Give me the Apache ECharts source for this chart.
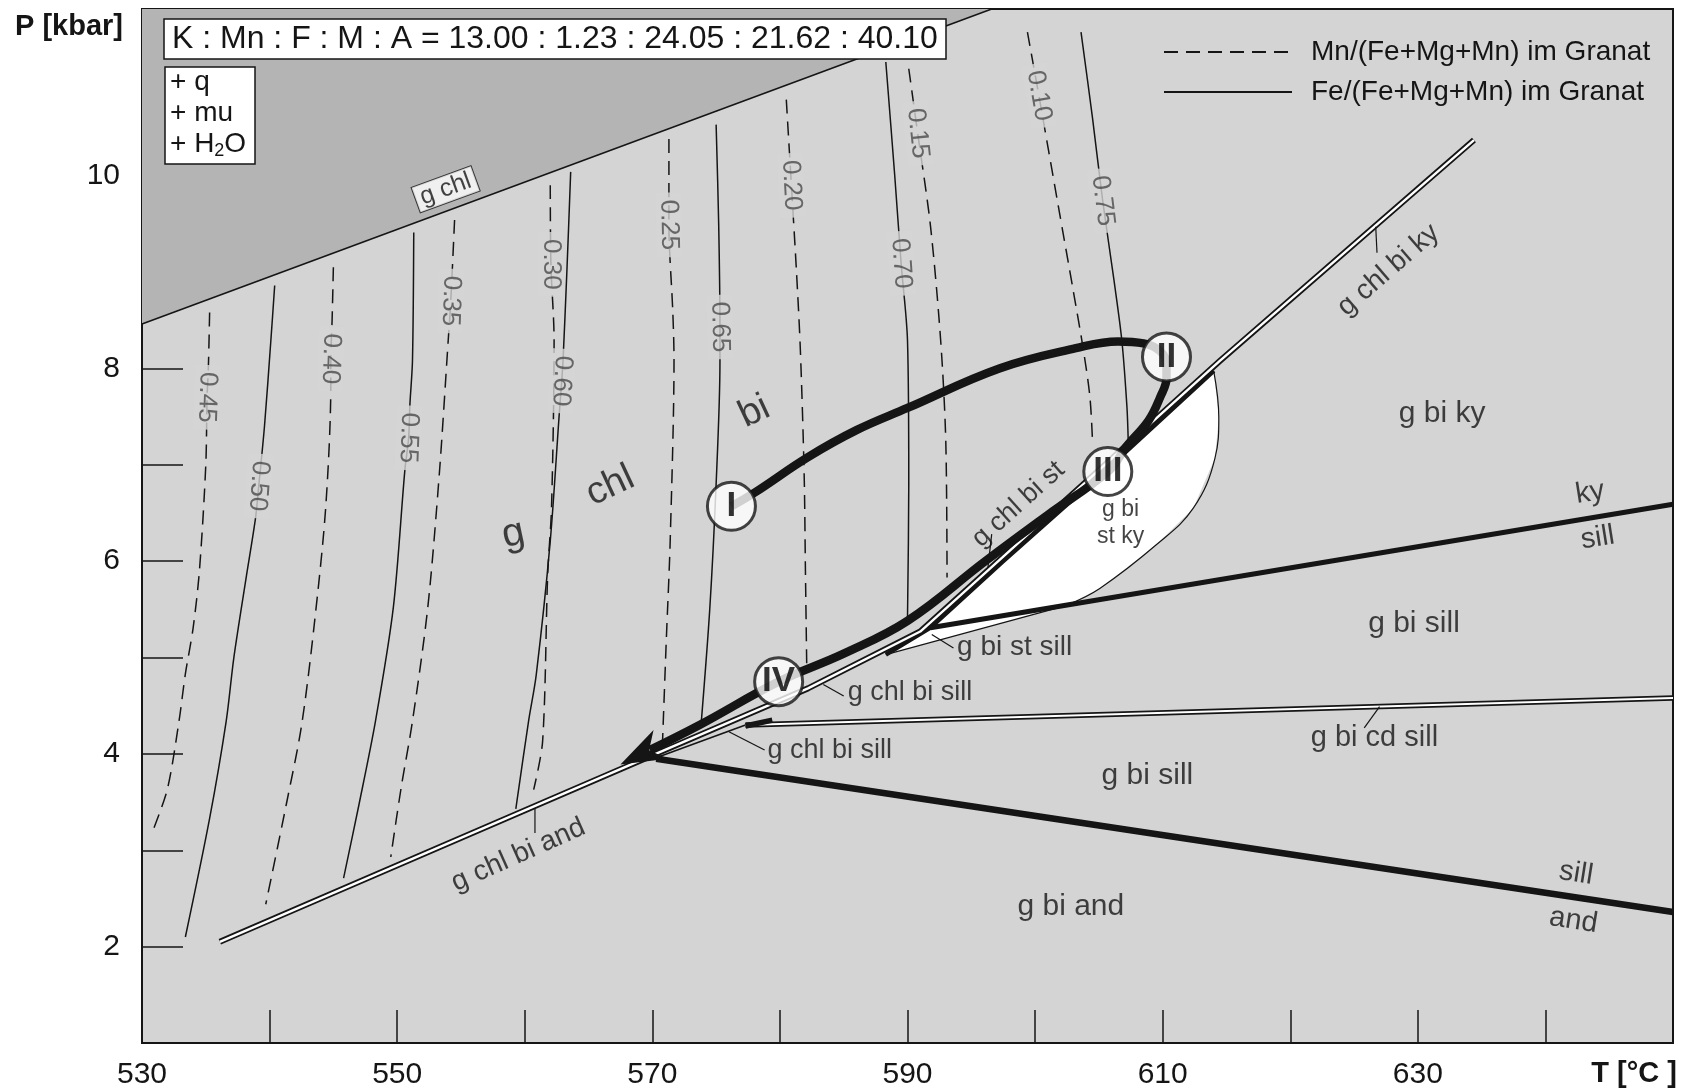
<!DOCTYPE html>
<html lang="de">
<head>
<meta charset="utf-8">
<title>P-T-Pseudoschnitt</title>
<script src="https://cdn.jsdelivr.net/npm/echarts@6/dist/echarts.min.js"></script>
<style>
  html, body { margin: 0; padding: 0; background: #ffffff; }
  #chart { width: 1684px; height: 1090px; }
</style>
</head>
<body>
<div id="chart"></div>
<script>
// ---------------- data ----------------
const tempTicks = [540, 550, 560, 570, 580, 590, 600, 610, 620, 630, 640];
const tempLabels = [530, 550, 570, 590, 610, 630];
const presTicks = [2, 3, 4, 5, 6, 7, 8, 9, 10];
const presLabels = [2, 4, 6, 8, 10];

const bulkComponents = ['K', 'Mn', 'F', 'M', 'A'];
const bulkRatio = ['13.00', '1.23', '24.05', '21.62', '40.10'];
const excessPhases = ['q', 'mu', 'H{sub|2}O'];

// upper stability limit of garnet + chlorite, and the field above it
const gChlLimit = [[530, 8.46], [596.6, 11.73]];
const capField = [[530, 8.46], [596.6, 11.73], [530, 11.73]];

// Mn/(Fe+Mg+Mn) isopleths in garnet
const mnLevels = ['0.45', '0.40', '0.35', '0.30', '0.25', '0.20', '0.15', '0.10'];
const mn045 = [[535.3, 8.58], [535.2, 8.0], [535.1, 7.70], [535.0, 7.0], [534.5, 5.9], [534.0, 5.3], [533.4, 4.83], [532.9, 4.34], [532.0, 3.64], [530.9, 3.22]];
const mn040 = [[545.0, 9.05], [544.9, 8.5], [544.8, 8.10], [544.8, 7.85], [544.4, 6.56], [543.5, 5.34], [542.5, 4.29], [541.3, 3.47], [539.7, 2.44]];
const mn035 = [[554.5, 9.54], [554.2, 8.70], [554.0, 8.29], [553.3, 6.90], [552.4, 5.52], [551.2, 4.34], [550.3, 3.64], [549.5, 2.93]];
const mn030 = [[562.0, 9.90], [562.05, 9.08], [562.3, 8.29], [562.1, 6.56], [561.8, 5.87], [561.4, 4.13], [560.7, 3.63]];
const mn025 = [[571.3, 10.38], [571.3, 9.49], [571.6, 8.6], [571.7, 8.1], [571.4, 6.21], [571.1, 5.2], [570.8, 4.13]];
const mn020 = [[580.5, 10.79], [580.9, 9.90], [581.3, 9.0], [581.6, 8.20], [581.9, 6.90], [582.0, 5.9], [582.1, 4.93]];
const mn015 = [[590.1, 11.11], [590.8, 10.44], [591.8, 9.48], [592.6, 8.29], [593.0, 7.25], [593.1, 5.83]];
const mn010 = [[599.4, 11.49], [600.3, 10.83], [601.8, 9.70], [603.0, 8.80], [603.8, 8.18], [604.3, 7.7], [604.5, 7.25]];
const mnLines = [mn045, mn040, mn035, mn030, mn025, mn020, mn015, mn010];
const mnLabelAt = [[535.1, 7.70], [544.8, 8.10], [554.2, 8.70], [562.05, 9.08], [571.3, 9.49], [580.9, 9.90], [590.8, 10.44], [600.3, 10.83]];

// Fe/(Fe+Mg+Mn) isopleths in garnet
const feLevels = ['0.50', '0.55', '0.60', '0.65', '0.70', '0.75'];
const fe050 = [[540.4, 8.86], [540.1, 8.29], [539.6, 7.4], [539.15, 6.78], [538.9, 6.45], [538.2, 5.86], [537.2, 5.0], [536.6, 4.34], [535.3, 3.33], [533.4, 2.10]];
const fe055 = [[551.3, 9.41], [551.2, 8.08], [551.0, 7.63], [550.9, 7.28], [550.6, 6.94], [549.7, 5.52], [548.3, 4.34], [547.0, 3.47], [545.8, 2.71]];
const fe060 = [[563.6, 10.04], [563.3, 9.0], [563.0, 8.08], [562.9, 7.87], [562.7, 7.52], [562.0, 6.21], [560.9, 4.82], [560.3, 4.34], [559.3, 3.43]];
const fe065 = [[575.0, 10.53], [575.2, 9.5], [575.3, 8.43], [575.3, 8.06], [575.0, 6.80], [574.5, 5.5], [573.8, 4.27]];
const fe070 = [[588.3, 11.18], [589.0, 10.0], [589.5, 9.09], [590.0, 8.29], [590.1, 6.8], [590.0, 5.41]];
const fe075 = [[603.6, 11.49], [604.5, 10.6], [605.3, 9.74], [606.2, 8.9], [606.8, 8.29], [607.2, 7.6], [607.3, 7.25]];
const feLines = [fe050, fe055, fe060, fe065, fe070, fe075];
const feLabelAt = [[539.15, 6.78], [550.9, 7.28], [562.9, 7.87], [575.3, 8.43], [589.5, 9.09], [605.3, 9.74]];

// narrow divariant fields drawn as double lines
const chlBiBand = [[536.1, 2.05], [569.4, 3.95], [582.2, 4.68], [591.0, 5.27], [614.5, 8.08], [634.4, 10.37]];
const cdBand = [[577.3, 4.30], [650, 4.58]];
const cdBandStart = [[577.3, 4.29], [579.4, 4.35]];
const chlOutSill = [[570.3, 3.96], [577.3, 4.30]];

// Al2SiO5 polymorph boundaries
const andSill = [[570.3, 3.95], [650, 2.36]];
const kySill = [[591.8, 5.31], [650, 6.59]];

// staurolite-bearing fields
const stKyField = [[614.0, 7.975], [614.4, 7.49], [614.1, 7.07], [612.4, 6.55], [609.5, 6.17], [605.1, 5.72], [602.6, 5.55], [591.8, 5.31], [597.5, 6.0], [606.0, 7.0]];
const stKyCurve = [[614.0, 7.975], [614.4, 7.49], [614.1, 7.07], [612.4, 6.55], [609.5, 6.17], [605.1, 5.72], [602.6, 5.55]];
const stKyEdge = [[588.3, 5.03], [591.8, 5.31], [597.5, 6.0], [606.0, 7.0], [614.0, 7.975]];
const stSillField = [[588.3, 5.03], [591.8, 5.31], [603.0, 5.56]];
const stSillEdge = [[588.3, 5.03], [603.0, 5.56]];

// P-T path
const ptPath = [[576.2, 6.57], [578.0, 6.71], [582.2, 7.08], [586.0, 7.36], [590.0, 7.59], [597.2, 8.0], [603.2, 8.21], [606.5, 8.28], [608.5, 8.26], [609.8, 8.18], [610.3, 8.05], [610.3, 7.9], [609.8, 7.70], [608.9, 7.46], [607.1, 7.18], [605.8, 6.94], [601.0, 6.48], [596.1, 6.0], [590.0, 5.38], [585.0, 5.04], [579.9, 4.75], [573.7, 4.30], [569.8, 4.04]];
const ptArrow = [[573.7, 4.30], [567.5, 3.89]];
const stationNames = ['I', 'II', 'III', 'IV'];
const stationAt = [[576.2, 6.57], [610.3, 8.12], [605.7, 6.93], [579.9, 4.75]];

// field names
const fieldNames = ['g', 'chl', 'bi', 'g chl bi st', 'g bi\nst ky', 'g bi ky', 'ky', 'sill', 'g bi sill', 'g bi st sill',
  'g chl bi sill', 'g chl bi sill', 'g bi cd sill', 'g bi sill', 'g bi and', 'sill', 'and', 'g chl bi and', 'g chl bi ky'];
const fieldAt = [[559.1, 6.28], [566.7, 6.78], [578.0, 7.55], [598.7, 6.59], [606.7, 6.39], [631.9, 7.53], [643.5, 6.71], [644.1, 6.24],
  [629.7, 5.35], [598.4, 5.11], [590.2, 4.64], [583.9, 4.04], [626.6, 4.16], [608.8, 3.77], [602.8, 2.41], [642.4, 2.76],
  [642.2, 2.27], [559.5, 2.95], [627.7, 9.02]];
const gChlName = 'g chl';
const gChlNameAt = [553.8, 9.86];

// leader lines from field names to their fields
const leaders = [
  [[560.8, 3.43], [560.8, 3.18]],
  [[626.7, 9.47], [626.8, 9.20]],
  [[596.6, 6.28], [596.3, 5.93]],
  [[583.4, 4.72], [585.0, 4.60]],
  [[576.0, 4.23], [578.8, 4.04]],
  [[591.9, 5.24], [593.6, 5.10]],
  [[627.0, 4.49], [625.8, 4.27]]
];

// ---------------- styles ----------------
const FONT = "'Liberation Sans', Arial, Helvetica, sans-serif";
const INK = '#151515';
const PLOT_BG = '#d4d4d4';
const CAP_BG = '#b4b4b4';
const LABEL_GREY = '#4a4a4a';
const MN_NAME = 'Mn/(Fe+Mg+Mn) im Granat';
const FE_NAME = 'Fe/(Fe+Mg+Mn) im Granat';
const mnLabelRotate = [-92, -92, -92, -90, -89, -87, -84, -80];
const feLabelRotate = [-94, -92, -93, -89, -86, -83];
const fieldFont = [40, 38, 38, 27, 23, 30, 29, 29, 30, 28, 27, 27, 29, 30, 30, 29, 29, 28, 28];
const fieldRotate = [12, 25, 25, 42, 0, 0, 9, 9, 0, 0, 0, 0, 0, 0, 0, -9, -9, 24, 41];

function line(data, lineStyle, z, extra) {
  return Object.assign({
    type: 'line', data: data, symbol: 'none', silent: true, animation: false,
    itemStyle: { color: lineStyle.color },
    lineStyle: Object.assign({ cap: 'butt', join: 'round' }, lineStyle), z: z
  }, extra || {});
}
function polygon(points, fill, z) {
  return {
    type: 'custom', coordinateSystem: 'cartesian2d', silent: true, animation: false, clip: true, z: z,
    data: [points[0]],
    renderItem: function (params, api) {
      return { type: 'polygon', shape: { points: points.map(function (p) { return api.coord(p); }) }, style: { fill: fill } };
    }
  };
}
// stealth-style arrow head placed at the end of a segment, oriented in screen space
function arrowHead(segment, fill, z) {
  return {
    type: 'custom', coordinateSystem: 'cartesian2d', silent: true, animation: false, z: z,
    data: [segment[1]],
    renderItem: function (params, api) {
      const a = api.coord(segment[0]);
      const b = api.coord(segment[1]);
      const dx = b[0] - a[0], dy = b[1] - a[1];
      const L = Math.sqrt(dx * dx + dy * dy) || 1;
      const ux = dx / L, uy = dy / L, nx = -uy, ny = ux;
      const len = 45, hw = 16, notch = 13;
      return {
        type: 'polygon',
        shape: {
          points: [
            b,
            [b[0] - ux * len + nx * hw, b[1] - uy * len + ny * hw],
            [b[0] - ux * (len - notch), b[1] - uy * (len - notch)],
            [b[0] - ux * len - nx * hw, b[1] - uy * len - ny * hw]
          ]
        },
        style: { fill: fill }
      };
    }
  };
}
function labelPoints(names, positions, perItem) {
  return names.map(function (n, i) {
    return { value: positions[i], name: n, label: perItem ? perItem(i) : undefined };
  });
}

const series = [];
// dark field above g + chl stability
series.push(polygon(capField, CAP_BG, 1));
series.push(line(gChlLimit, { color: INK, width: 1.6 }, 2));
// isopleths
mnLines.forEach(function (pts) {
  series.push(line(pts, { color: INK, width: 1.5, type: [14, 8] }, 2, { name: MN_NAME, smooth: 0.3 }));
});
feLines.forEach(function (pts) {
  series.push(line(pts, { color: INK, width: 1.5 }, 2, { name: FE_NAME, smooth: 0.3 }));
});
// isopleth values
series.push({
  type: 'scatter', z: 3, silent: true, animation: false, symbolSize: 1,
  itemStyle: { color: 'rgba(0,0,0,0)' },
  data: labelPoints(mnLevels, mnLabelAt, function (i) { return { rotate: mnLabelRotate[i] }; })
    .concat(labelPoints(feLevels, feLabelAt, function (i) { return { rotate: feLabelRotate[i] }; })),
  label: {
    show: true, position: 'inside', formatter: '{b}', fontFamily: FONT, fontSize: 26, color: LABEL_GREY,
    backgroundColor: PLOT_BG, padding: [0, 7]
  }
});
// staurolite fields
series.push(polygon(stKyField, '#ffffff', 4));
series.push(polygon(stSillField, '#ffffff', 4));
series.push(line(stKyCurve, { color: INK, width: 1.2 }, 5, { smooth: 0.4 }));
series.push(line(stSillEdge, { color: INK, width: 1.2 }, 5));
series.push(line(stKyEdge, { color: INK, width: 4.5 }, 5));
// polymorph boundaries
series.push(line(andSill, { color: INK, width: 6.5 }, 5));
series.push(line(kySill, { color: INK, width: 5 }, 5));
// double-line bands
series.push(line(chlOutSill, { color: INK, width: 1.6 }, 5));
series.push(line(chlBiBand, { color: INK, width: 6 }, 5));
series.push(line(chlBiBand, { color: '#ffffff', width: 2.4 }, 6));
series.push(line(cdBand, { color: INK, width: 5.5 }, 5));
series.push(line(cdBand, { color: '#ffffff', width: 2.2 }, 6));
series.push(line(cdBandStart, { color: INK, width: 5.5 }, 6));
// leader lines
leaders.forEach(function (seg) { series.push(line(seg, { color: INK, width: 1.2 }, 6)); });
// P-T path with arrow head
series.push(line(ptPath, { color: INK, width: 8.5 }, 7, { smooth: 0.4 }));
series.push(arrowHead(ptArrow, INK, 7));
// stations on the path
series.push({
  type: 'scatter', z: 8, silent: true, animation: false, symbol: 'circle', symbolSize: 48,
  itemStyle: { color: '#ffffff', borderColor: INK, borderWidth: 3 },
  data: labelPoints(stationNames, stationAt),
  label: { show: true, position: 'inside', formatter: '{b}', fontFamily: FONT, fontWeight: 'bold', fontSize: 35, color: '#000' }
});
// field names
series.push({
  type: 'scatter', z: 9, silent: true, animation: false, symbolSize: 1, itemStyle: { color: 'rgba(0,0,0,0)' },
  data: labelPoints(fieldNames, fieldAt, function (i) { return { rotate: fieldRotate[i], fontSize: fieldFont[i] }; }),
  label: { show: true, position: 'inside', formatter: '{b}', fontFamily: FONT, color: INK, lineHeight: 27 }
});
series.push({
  type: 'scatter', z: 9, silent: true, animation: false, symbolSize: 1, itemStyle: { color: 'rgba(0,0,0,0)' },
  data: [{ value: gChlNameAt, name: gChlName }],
  label: {
    show: true, position: 'inside', formatter: '{b}', fontFamily: FONT, fontSize: 25, color: INK, rotate: 20,
    backgroundColor: '#ffffff', borderColor: INK, borderWidth: 1, padding: [1, 5, 0, 5]
  }
});

const compositionText = bulkComponents.join(' : ') + ' = ' + bulkRatio.join(' : ');
const phasesText = excessPhases.map(function (p) { return '+ ' + p; }).join('\n');

const option = {
  animation: false,
  backgroundColor: '#ffffff',
  textStyle: { fontFamily: FONT },
  title: [
    {
      text: compositionText, left: 164, top: 19, padding: [3, 8, 3, 8],
      backgroundColor: '#ffffff', borderColor: INK, borderWidth: 1.5,
      textStyle: { fontFamily: FONT, fontSize: 32, fontWeight: 'normal', color: INK, lineHeight: 34 }
    },
    {
      text: phasesText, left: 165, top: 67, padding: [0, 9, 4, 5],
      backgroundColor: '#ffffff', borderColor: INK, borderWidth: 1.5,
      textStyle: {
        fontFamily: FONT, fontSize: 28, lineHeight: 31, fontWeight: 'normal', color: INK,
        rich: { sub: { fontFamily: FONT, fontSize: 18, lineHeight: 18, verticalAlign: 'bottom', color: INK } }
      }
    }
  ],
  legend: {
    data: [MN_NAME, FE_NAME], orient: 'vertical', left: 1163, top: 38, padding: 0,
    itemWidth: 128, itemHeight: 2, itemGap: 12, selectedMode: false,
    itemStyle: { color: 'rgba(0,0,0,0)', borderWidth: 0, opacity: 0 },
    textStyle: { fontFamily: FONT, fontSize: 28, color: INK, lineHeight: 28, padding: [0, 0, 0, 14] }
  },
  grid: {
    left: 142, right: 11, top: 9, bottom: 47, show: true,
    backgroundColor: PLOT_BG, borderColor: INK, borderWidth: 2
  },
  xAxis: {
    type: 'value', min: 530, max: 650, interval: 10,
    name: 'T [°C ]', nameLocation: 'end', nameGap: 4,
    nameTextStyle: { fontFamily: FONT, fontSize: 29, fontWeight: 'bold', color: INK, align: 'right', verticalAlign: 'top', padding: [16, 0, 0, 0] },
    axisLine: { show: true, lineStyle: { color: INK, width: 2 } },
    axisTick: { show: true, inside: true, length: 33, customValues: tempTicks, lineStyle: { color: INK, width: 1.5 } },
    axisLabel: {
      show: true, margin: 17, fontFamily: FONT, fontSize: 30, color: INK, customValues: tempLabels,
      formatter: function (v) { return tempLabels.indexOf(v) >= 0 ? String(v) : ''; }
    },
    splitLine: { show: false }
  },
  yAxis: {
    type: 'value', min: 1, max: 11.73, interval: 1,
    name: 'P [kbar]', nameLocation: 'end', nameGap: -18,
    nameTextStyle: { fontFamily: FONT, fontSize: 29, fontWeight: 'bold', color: INK, align: 'right', verticalAlign: 'middle', padding: [0, 19, 0, 0] },
    axisLine: { show: true, lineStyle: { color: INK, width: 2 } },
    axisTick: { show: true, inside: true, length: 41, customValues: presTicks, lineStyle: { color: INK, width: 1.5 } },
    axisLabel: {
      show: true, margin: 22, fontFamily: FONT, fontSize: 30, color: INK, customValues: presLabels,
      formatter: function (v) { return presLabels.indexOf(v) >= 0 ? String(v) : ''; }
    },
    splitLine: { show: false }
  },
  series: series
};

const chart = echarts.init(document.getElementById('chart'), null, { renderer: 'canvas' });
chart.setOption(option);
</script>
</body>
</html>
